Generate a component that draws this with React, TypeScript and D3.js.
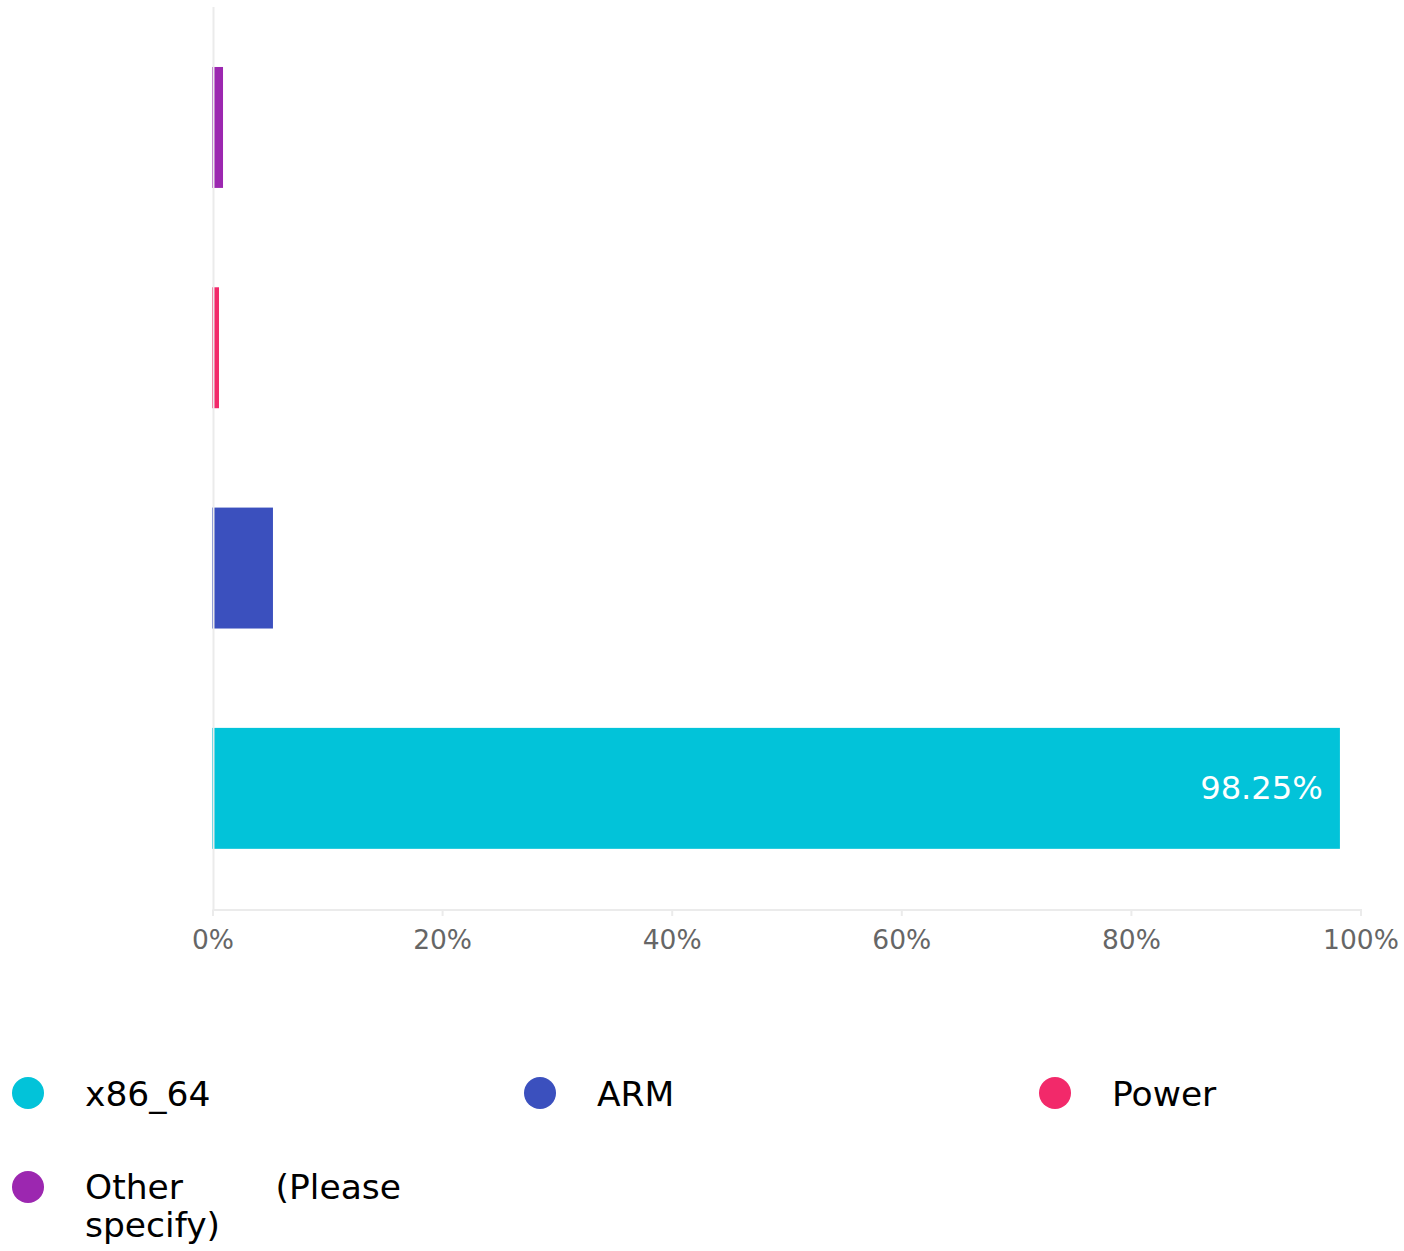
import React from "react";
import * as d3 from "d3";

const categories = ["Other (Please specify)", "Power", "ARM", "x86_64"];
const values = [0.96, 0.61, 5.31, 98.25];
const colors = ["#9c27b0", "#f2296a", "#3b50be", "#02c3d9"];
const xTicks = [0, 20, 40, 60, 80, 100];
const legendOrder = ["x86_64", "ARM", "Power", "Other (Please specify)"];
const labelled = ["x86_64"];

const W = 1404;
const H = 1251;
const FONT = "DejaVu Sans, sans-serif";

export default function App() {
  const x = d3.scaleLinear().domain([0, 100]).range([213, 1361]);
  const y = d3.scaleBand<string>().domain(categories).range([17.3, 898.5]).paddingInner(0.451).paddingOuter(0.2255);
  const colorOf = d3.scaleOrdinal<string, string>().domain(categories).range(colors);
  const axisY = 910;

  const legendX = [0, 512, 1027];
  const legendRowY = [1093, 1187];
  const LF = 34.5;

  return (
    <svg width={W} height={H} style={{ position: "absolute", left: 0, top: 0, fontFamily: FONT }}>
      <rect x={0} y={0} width={W} height={H} fill="#fff" />
      {categories.map((c, i) => (
        <rect key={c} x={x(0) - 1} y={y(c)} width={x(values[i]) - x(0)} height={y.bandwidth()} fill={colorOf(c)} />
      ))}
      {/* axes */}
      <line x1={213.5} x2={213.5} y1={7} y2={axisY} stroke="#ebebeb" strokeWidth={2} />
      <line x1={212.5} x2={x(100) + 1} y1={axisY} y2={axisY} stroke="#ebebeb" strokeWidth={2} />
      {xTicks.map((t) => (
        <g key={t}>
          <line x1={x(t)} x2={x(t)} y1={axisY} y2={axisY + 6} stroke="#ebebeb" strokeWidth={2} />
          <text x={x(t)} y={949} textAnchor="middle" fontSize={26.5} fill="#666">
            {t}%
          </text>
        </g>
      ))}
      {categories.map((c, i) =>
        labelled.includes(c) ? (
          <text key={c} x={x(values[i]) - 18} y={(y(c) as number) + y.bandwidth() / 2 + 11} textAnchor="end" fontSize={32.2} fill="#fff">
            {values[i].toFixed(2)}%
          </text>
        ) : null
      )}
      {/* legend */}
      {legendOrder.map((c, i) => {
        const col = i % 3;
        const row = Math.floor(i / 3);
        const lx = legendX[col];
        const ly = legendRowY[row];
        return (
          <g key={c}>
            <circle cx={lx + 28} cy={ly} r={16} fill={colorOf(c)} />
            {c === "Other (Please specify)" ? (
              <>
                <text x={lx + 85} y={ly + 12} fontSize={LF} fill="#000">Other</text>
                <text x={lx + 401} y={ly + 12} fontSize={LF} fill="#000" textAnchor="end">(Please</text>
                <text x={lx + 85} y={ly + 50} fontSize={LF} fill="#000">specify)</text>
              </>
            ) : (
              <text x={lx + 85} y={ly + 13} fontSize={LF} fill="#000">{c}</text>
            )}
          </g>
        );
      })}
    </svg>
  );
}
